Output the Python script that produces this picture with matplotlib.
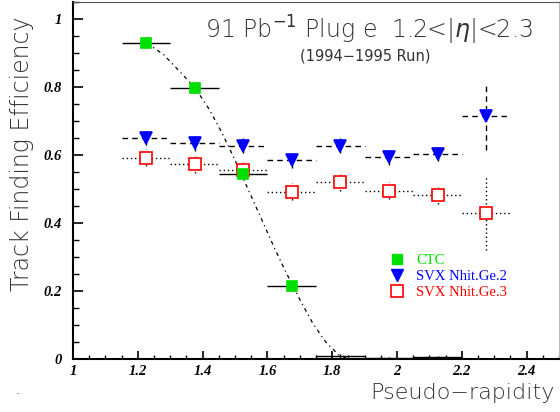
import matplotlib
matplotlib.use("Agg")
import matplotlib.pyplot as plt
from matplotlib.lines import Line2D
from matplotlib.ticker import MultipleLocator

# DATA
eta = [1.225, 1.375, 1.525, 1.675, 1.825, 1.975, 2.125, 2.275]
half_bin = 0.075

ctc = [0.930, 0.797, 0.544, 0.215, 0.009, 0.003, 0.006, 0.0]
ctc_err = [0.008, 0.012, 0.015, 0.015, 0.006, 0.004, 0.004, 0.0]

svx2 = [0.650, 0.635, 0.627, 0.585, 0.627, 0.594, 0.603, 0.715]
svx2_err = [0.022, 0.022, 0.022, 0.022, 0.022, 0.022, 0.022, 0.100]

svx3 = [0.592, 0.573, 0.555, 0.492, 0.520, 0.495, 0.482, 0.428]
svx3_err = [0.025, 0.025, 0.025, 0.025, 0.025, 0.025, 0.025, 0.107]

# fit curve
fit_x = [1.228, 1.28, 1.33, 1.377, 1.42, 1.46, 1.50, 1.54, 1.58,
         1.62, 1.66, 1.70, 1.74, 1.78, 1.82, 1.85]
fit_y = [0.929, 0.895, 0.845, 0.797, 0.735, 0.665, 0.585, 0.500, 0.415,
         0.330, 0.250, 0.175, 0.105, 0.050, 0.012, 0.0]

labels = ["CTC", "SVX Nhit.Ge.2", "SVX Nhit.Ge.3"]
kolory = ["#00e000", "#0000ff", "#ff0000"]

# FIGURE
fig = plt.figure(figsize=(5.6, 4.12), dpi=100)
ax = fig.add_axes([73 / 560, 53 / 412, 486 / 560, 357 / 412])

# dash-dot fit curve
ax.plot(fit_x, fit_y, color="black", linestyle=(0, (3, 3, 1, 3)), linewidth=0.9)

def draw(y, yerr, marker, face, edge, ls, ms, n_markers=None):
    eb = ax.errorbar(eta, y, xerr=half_bin, yerr=yerr, fmt=marker,
                     markerfacecolor=face, markeredgecolor=edge, markersize=ms,
                     markeredgewidth=1.2, ecolor="black", elinewidth=1.0,
                     capsize=0, zorder=3)
    for lc in eb[2]:
        lc.set_linestyle(ls)
    if n_markers is not None:
        eb[0].set_markevery(list(range(n_markers)))
    return eb

draw(svx3, svx3_err, "s", "white", kolory[2], (0, (1, 2)), 9)
draw(svx2, svx2_err, "v", kolory[1], kolory[1], (0, (4, 3)), 8)
# the CTC points near zero show no marker in the picture
draw(ctc, ctc_err, "s", kolory[0], kolory[0], "-", 7, n_markers=4)

ax.set_xlim(1.0, 2.5)
ax.set_ylim(0.0, 1.05)

ax.xaxis.set_major_locator(MultipleLocator(0.2))
ax.xaxis.set_minor_locator(MultipleLocator(0.05))
ax.yaxis.set_major_locator(MultipleLocator(0.2))
ax.yaxis.set_minor_locator(MultipleLocator(0.05))

ax.tick_params(which="both", direction="in", top=False, right=False)
ax.tick_params(axis="y", which="major", length=7, width=1.2, pad=8)
ax.tick_params(axis="y", which="minor", length=4, width=1.0)
ax.tick_params(axis="x", which="major", length=6, width=1.2, pad=4)
ax.tick_params(axis="x", which="minor", length=3, width=1.0)

ax.xaxis.set_major_formatter(plt.FuncFormatter(lambda v, p: "%g" % v))
ax.yaxis.set_major_formatter(plt.FuncFormatter(lambda v, p: "%g" % v))
for lab in ax.get_xticklabels() + ax.get_yticklabels():
    lab.set_fontfamily("Liberation Serif")
    lab.set_fontweight("bold")
    lab.set_fontstyle("italic")
    lab.set_fontsize(10.5)

ax.spines["left"].set_linewidth(1.5)
ax.spines["bottom"].set_linewidth(1.5)
ax.spines["top"].set_color("#555555")
ax.spines["right"].set_color("#bbbbbb")

# legend
uchwyty = [
    Line2D([], [], marker="s", linestyle="none", markerfacecolor=kolory[0],
           markeredgecolor=kolory[0], markersize=7),
    Line2D([], [], marker="v", linestyle="none", markerfacecolor=kolory[1],
           markeredgecolor=kolory[1], markersize=8),
    Line2D([], [], marker="s", linestyle="none", markerfacecolor="white",
           markeredgecolor=kolory[2], markersize=9, markeredgewidth=1.2),
]
ax.legend(uchwyty, labels, loc="upper left", bbox_to_anchor=(0.61, 0.331),
          frameon=False, labelcolor=kolory, handletextpad=0.3,
          labelspacing=0.2, prop={"family": "Liberation Serif", "size": 10.5})

# texts
kolor_tekstu = "#333333"
fig.text(205 / 560, 1 - 30 / 412, r"91 Pb$^{-1}$ Plug e  1.2<|$\eta$|<2.3",
         family="DejaVu Sans", fontweight=200, fontsize=17, color=kolor_tekstu,
         va="center", ha="left")
fig.text(300 / 560, 1 - 56 / 412, "(1994\u22121995 Run)",
         family="DejaVu Sans", fontsize=10.5, color=kolor_tekstu,
         va="center", ha="left")
fig.text(555 / 560, 1 - 393 / 412, "Pseudo\u2212rapidity",
         family="DejaVu Sans", fontweight=200, fontsize=16, color=kolor_tekstu,
         va="center", ha="right")
fig.text(22 / 560, 1 - 154 / 412, "Track Finding Efficiency",
         family="DejaVu Sans", fontweight=200, fontsize=17, color=kolor_tekstu,
         va="center", ha="center", rotation=90)
fig.text(17 / 560, 1 - 395 / 412, "-", fontsize=5, color="#444444")

fig.savefig("out.png", dpi=100)
